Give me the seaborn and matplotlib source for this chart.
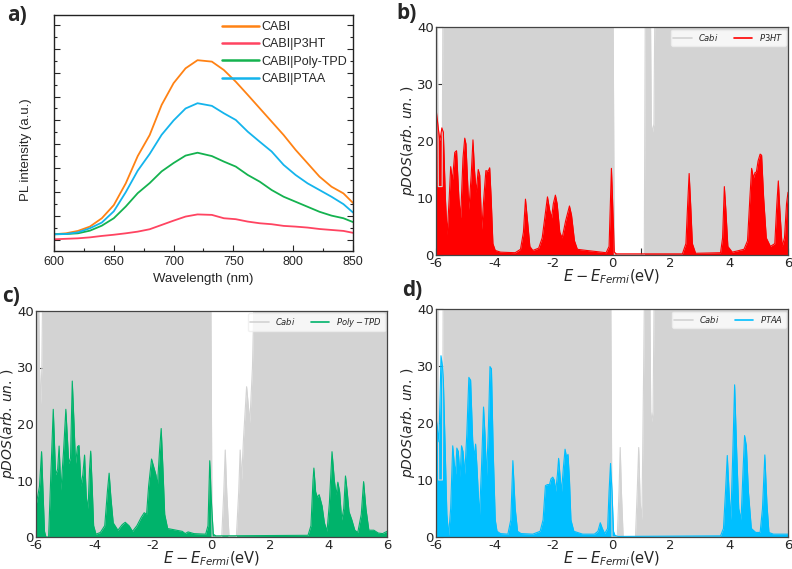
import matplotlib
matplotlib.use("Agg")
import numpy as np
import pandas as pd
import matplotlib.pyplot as plt
from matplotlib.ticker import MultipleLocator
import seaborn as sns

# ---- a) PL spectra (arbitrary units, read off the picture) ----
wl = [600, 610, 620, 630, 640, 650, 660, 670, 680, 690, 700, 710, 720,
      732, 742, 752, 762, 772, 782, 792, 802, 812, 822, 832, 842, 850]
pl_cabi = [0.24, 0.28, 0.38, 0.56, 0.91, 1.46, 2.37, 3.51, 4.39, 5.65, 6.56, 7.18, 7.52,
           7.46, 7.11, 6.62, 6.07, 5.51, 4.95, 4.39, 3.77, 3.21, 2.65, 2.23, 1.95, 1.55]
pl_p3ht = [0.03, 0.05, 0.07, 0.11, 0.17, 0.22, 0.28, 0.35, 0.45, 0.63, 0.81, 0.98, 1.07,
           1.05, 0.91, 0.87, 0.77, 0.70, 0.66, 0.59, 0.56, 0.52, 0.46, 0.42, 0.38, 0.30]
pl_polytpd = [0.24, 0.25, 0.28, 0.39, 0.60, 0.91, 1.40, 1.96, 2.38, 2.87, 3.22, 3.53, 3.65,
              3.51, 3.28, 3.07, 2.72, 2.44, 2.09, 1.81, 1.60, 1.39, 1.18, 1.02, 0.91, 0.75]
pl_ptaa = [0.24, 0.25, 0.32, 0.49, 0.73, 1.20, 2.00, 2.90, 3.60, 4.40, 5.00, 5.50, 5.72,
           5.61, 5.30, 5.02, 4.53, 4.11, 3.70, 3.14, 2.72, 2.37, 2.09, 1.81, 1.50, 1.15]
pl_labels = ['CABI', 'CABI|P3HT', 'CABI|Poly-TPD', 'CABI|PTAA']
pl_colors = ['#ff8214', '#ff4461', '#14b24f', '#14b4ec']

# ---- pDOS data (E - E_Fermi in eV, pDOS in arb. un.) ----
# Cabi backgrounds (values above 40 run off the top of the axes)
cabi_b_e = [-6.0, -5.96, -5.94, -5.92, -5.88, -5.79, -5.76, 0.03, 0.08, 1.10, 1.14,
            1.30, 1.34, 1.38, 1.43, 1.47, 6.0]
cabi_b_v = [50, 50, 31, 12, 12, 12, 50, 50, 0, 0, 50, 50, 23, 21.5, 23, 50, 50]

cabi_c_e = [-6.0, -5.93, -5.88, -5.84, -5.80, -5.76, -0.03, 0.02, 0.35, 0.42, 0.47, 0.52,
            0.60, 0.85, 0.93, 0.98, 1.03, 1.09, 1.20, 1.28, 1.31, 1.40, 1.49, 6.0]
cabi_c_v = [50, 50, 30, 23.5, 30, 50, 50, 0, 0, 8, 15.4, 8, 0, 0, 8, 15.4, 10, 17, 26.6,
            22, 20.2, 30, 50, 50]

cabi_d_e = [-6.0, -5.94, -5.91, -5.78, -5.75, -0.05, 0.0, 0.18, 0.24, 0.28, 0.32, 0.38,
            0.80, 0.86, 0.91, 0.96, 1.02, 1.08, 1.12, 1.28, 1.32, 1.36, 1.40, 1.45, 6.0]
cabi_d_v = [50, 50, 10, 10, 50, 50, 0, 0, 8, 15.7, 8, 0, 0, 8, 15.7, 6, 3, 30, 50, 50,
            22, 20.2, 22, 50, 50]

p3ht_e = [-6.0, -5.95, -5.87, -5.80, -5.75, -5.68, -5.62, -5.55, -5.50, -5.44, -5.36, -5.30,
          -5.22, -5.16, -5.08, -5.02, -4.98, -4.88, -4.80, -4.74, -4.69, -4.63, -4.56, -4.51,
          -4.44, -4.37, -4.30, -4.22, -4.17, -4.12, -4.06, -3.98, -3.80, -3.30, -3.12, -3.02,
          -2.95, -2.88, -2.80, -2.70, -2.50, -2.38, -2.28, -2.20, -2.13, -2.06, -2.00, -1.93,
          -1.87, -1.78, -1.70, -1.58, -1.45, -1.38, -1.28, -1.18, -0.87, -0.53, -0.20, -0.10,
          -0.05, -0.02, 0.03, 0.08, 0.15, 2.40, 2.52, 2.58, 2.63, 2.68, 2.74, 2.85, 3.70,
          3.77, 3.83, 3.88, 3.95, 4.10, 4.50, 4.62, 4.70, 4.76, 4.82, 4.88, 4.92, 4.98, 5.05,
          5.10, 5.17, 5.26, 5.40, 5.55, 5.62, 5.67, 5.72, 5.80, 5.88, 5.95, 6.0]
p3ht_v = [25.7, 23.5, 20.0, 22.3, 21.5, 10, 3.5, 10, 15.5, 13, 18, 18.3,
          10, 6.5, 17, 20.5, 19.5, 8, 14, 20.2, 15, 11, 15, 14,
          4.5, 10, 14.8, 14.7, 15.3, 10, 2, 0.8, 0.5, 0.4, 1.0, 4,
          9.8, 6, 1.5, 0.8, 1.2, 3, 7, 10.2, 8, 6.5, 9, 10.5,
          9, 4, 3, 6, 8.6, 7, 2.5, 1.0, 0.8, 0.6, 0.4, 1.5,
          10, 15.2, 8, 0.5, 0.2, 0.2, 2, 9, 14.3, 9, 2, 0.3, 0.4,
          3, 12, 8, 1.5, 0.5, 1, 2.5, 10, 15.2, 13.5, 14.5, 14.5, 16.5, 17.7,
          17.5, 10, 3, 1.5, 2, 9, 13, 8, 1.5, 3, 9, 11]

polytpd_e = [-6.0, -5.88, -5.81, -5.76, -5.71, -5.66, -5.57, -5.50, -5.41, -5.33, -5.26, -5.21,
             -5.15, -5.06, -4.98, -4.88, -4.82, -4.76, -4.70, -4.65, -4.58, -4.53, -4.46, -4.40,
             -4.34, -4.28, -4.22, -4.17, -4.13, -4.08, -4.03, -3.95, -3.80, -3.65, -3.56, -3.50,
             -3.44, -3.36, -3.20, -3.05, -2.95, -2.82, -2.70, -2.55, -2.40, -2.30, -2.22, -2.15,
             -2.05, -1.98, -1.90, -1.85, -1.78, -1.72, -1.66, -1.60, -1.50, -1.30, -1.00, -0.90,
             -0.80, -0.60, -0.20, -0.12, -0.06, 0.0, 0.06, 0.15, 3.30, 3.40, 3.47, 3.50, 3.56,
             3.62, 3.68, 3.78, 3.86, 3.95, 4.03, 4.12, 4.20, 4.26, 4.32, 4.38, 4.45, 4.52, 4.58,
             4.64, 4.70, 4.80, 4.90, 5.00, 5.12, 5.20, 5.28, 5.38, 5.55, 5.70, 5.85, 6.0]
polytpd_v = [5.5, 9, 15.1, 8, 1, 0, 0, 10, 22.6, 11, 12, 16.1,
             8.3, 15, 22.6, 13, 14, 27.6, 20, 13, 16, 16.2, 9, 11,
             14.5, 7, 5, 12, 15.2, 9, 2, 0.5, 0.8, 2, 8, 11.3,
             7, 2.5, 1.2, 2.2, 2.6, 2, 1, 2, 3.5, 4.3, 4, 9,
             13.8, 12.5, 11, 9, 15, 19.2, 12, 4, 1.5, 1.3, 1.0, 0.6,
             0.9, 0.6, 0.5, 2, 13.5, 6, 0.5, 0.2, 0.3, 2, 10, 12.2, 8,
             7, 7.5, 5.5, 2.5, 1.0, 6, 15.1, 10, 7.5, 9.7, 8, 3, 5, 10.8,
             8, 4.5, 3, 1.2, 0.8, 4, 9.8, 5, 1.2, 1.2, 0.7, 0.6, 1.0]

ptaa_e = [-6.0, -5.95, -5.90, -5.86, -5.83, -5.78, -5.75, -5.68, -5.63, -5.57, -5.50, -5.43,
          -5.38, -5.33, -5.29, -5.24, -5.18, -5.13, -5.08, -5.02, -4.95, -4.88, -4.82, -4.75,
          -4.70, -4.65, -4.60, -4.52, -4.45, -4.38, -4.33, -4.28, -4.22, -4.16, -4.11, -4.05,
          -3.98, -3.92, -3.80, -3.55, -3.45, -3.38, -3.30, -3.22, -3.10, -2.70, -2.45, -2.35,
          -2.27, -2.20, -2.13, -2.08, -2.02, -1.97, -1.92, -1.86, -1.82, -1.76, -1.72, -1.66,
          -1.60, -1.55, -1.50, -1.45, -1.40, -1.30, -1.00, -0.60, -0.48, -0.40, -0.33, -0.25,
          -0.15, -0.10, -0.05, 0.0, 0.05, 0.10, 0.20, 3.70, 3.80, 3.87, 3.93, 3.99, 4.05,
          4.12, 4.18, 4.25, 4.32, 4.40, 4.47, 4.52, 4.58, 4.65, 4.75, 4.90, 5.05, 5.13, 5.21,
          5.28, 5.35, 5.50, 6.0]
ptaa_v = [21, 19, 16.7, 25, 31.8, 30, 27.6, 14, 4, 0.3, 5, 16,
          13, 11, 15.6, 15, 10.5, 16, 15, 11, 18, 28, 27.5, 17,
          14, 16.3, 12, 3.5, 12, 22.8, 18, 10.5, 18, 29.9, 29.5, 15,
          3, 1, 0.6, 0.5, 3, 13.4, 5, 1.0, 0.6, 0.5, 1, 3,
          9, 9.2, 9.2, 10.2, 10.5, 10, 8, 11, 13.8, 10, 8, 12,
          15.4, 14, 14.5, 10, 3, 1, 0.5, 0.5, 1, 2.5, 1.5, 0.6,
          1.5, 8, 12.9, 8, 1.0, 0.3, 0.1, 0.2, 1.5, 8, 14.3, 8, 3,
          15, 26.7, 15, 5, 3, 12, 17.8, 16, 8, 1.5, 0.8, 0.8, 5, 14.4,
          6, 0.8, 0.5, 0.5]

sns.set_style("ticks")
plt.rcParams['font.family'] = ['DejaVu Sans']
plt.rcParams['mathtext.fontset'] = 'dejavusans'

fig = plt.figure(figsize=(7.92, 5.69), dpi=100)
W, H = 792, 569


def axes_px(left, top, right, bottom):
    return fig.add_axes([left / W, 1 - bottom / H, (right - left) / W, (bottom - top) / H])


# ---- panel a ----
ax_a = axes_px(54, 15, 353, 251)
pl_df = pd.DataFrame({'wl': wl * 4,
                      'pl': pl_cabi + pl_p3ht + pl_polytpd + pl_ptaa,
                      'sample': sum([[lab] * len(wl) for lab in pl_labels], [])})
sns.lineplot(data=pl_df, x='wl', y='pl', hue='sample', hue_order=pl_labels,
             palette=pl_colors, lw=1.3, ax=ax_a)
ax_a.set_xlim(600, 850)
ax_a.set_ylim(-0.46, 9.41)
ax_a.xaxis.set_major_locator(MultipleLocator(50))
ax_a.xaxis.set_minor_locator(MultipleLocator(25))
ax_a.yaxis.set_major_locator(MultipleLocator(1))
ax_a.yaxis.set_minor_locator(MultipleLocator(0.5))
ax_a.tick_params(which='both', direction='in', left=True, right=True, top=False,
                 labelleft=False, labelsize=9)
ax_a.tick_params(which='major', length=4, width=0.8)
ax_a.tick_params(which='minor', length=2.5, width=0.8)
for lab in ax_a.get_xticklabels():
    lab.set_family('Liberation Sans')
for sp in ax_a.spines.values():
    sp.set_visible(True)
    sp.set_linewidth(1.0)
    sp.set_color('#222222')
ax_a.set_xlabel('Wavelength (nm)', family='Liberation Sans', fontsize=9.5, labelpad=4)
ax_a.set_ylabel('PL intensity (a.u.)', family='Liberation Sans', fontsize=9.5)
ax_a.yaxis.set_label_coords(-0.075, 0.43)
leg = ax_a.legend(loc='upper right', bbox_to_anchor=(1.0, 1.0), frameon=False,
                  prop={'family': 'Liberation Sans', 'size': 9}, handlelength=3.0,
                  handletextpad=0.15, labelspacing=0.42, borderaxespad=0.1)
for line in leg.get_lines():
    line.set_linewidth(1.8)


# ---- pDOS panels ----
def pdos_panel(ax, cabi_e, cabi_v, pe, pv, color, label):
    ax.fill_between(cabi_e, cabi_v, color='#d3d3d3', lw=0)
    sns.lineplot(x=cabi_e, y=cabi_v, color='#d3d3d3', lw=0.8, label='$Cabi$',
                 sort=False, ax=ax)
    ax.fill_between(pe, pv, color=color, lw=0)
    sns.lineplot(x=pe, y=pv, color=color, lw=0.8, label=label, sort=False, ax=ax)
    ax.set_xlim(-6, 6)
    ax.set_ylim(0, 40)
    ax.xaxis.set_major_locator(MultipleLocator(2))
    ax.xaxis.set_minor_locator(MultipleLocator(1))
    ax.yaxis.set_major_locator(MultipleLocator(10))
    ax.set_xticks([-6, -4, -2, 0, 2, 4, 6], ['-6', '-4', '-2', '0', '2', '4', '6'])
    ax.tick_params(which='both', direction='in', length=5, width=0.8, color='#333333',
                   labelsize=9.5, pad=1.5)
    for sp in ax.spines.values():
        sp.set_color('#444444')
        sp.set_linewidth(0.9)
    ax.set_xlabel(r'$E-E_{Fermi}$(eV)', fontsize=10.5, labelpad=-1.5)
    ax.set_ylabel(r'$pDOS(arb.\,un.\,)$', fontsize=10, labelpad=0)
    lg = ax.legend(loc='upper right', ncol=2, fontsize=6, handlelength=2.2,
                   handletextpad=0.8, columnspacing=1.8, borderpad=0.3,
                   borderaxespad=0.3, framealpha=0.8, edgecolor='#eeeeee')
    for line in lg.get_lines():
        line.set_linewidth(1.2)


ax_b = axes_px(436, 27, 788, 255)
pdos_panel(ax_b, cabi_b_e, cabi_b_v, p3ht_e, p3ht_v, '#ff0000', '$P3HT$')
ax_c = axes_px(36, 311, 387, 537)
pdos_panel(ax_c, cabi_c_e, cabi_c_v, polytpd_e, polytpd_v, '#00b36b', '$Poly-TPD$')
ax_d = axes_px(436, 309, 788, 537)
pdos_panel(ax_d, cabi_d_e, cabi_d_v, ptaa_e, ptaa_v, '#00bfff', '$PTAA$')

# panel letters
for txt, x, y in [('a)', 7, 5), ('b)', 396, 3), ('c)', 2, 286), ('d)', 402, 280)]:
    fig.text(x / W, 1 - y / H, txt, fontsize=15, fontweight='bold', va='top', ha='left',
             family='Open Sans')

fig.savefig('out.png', dpi=100)
